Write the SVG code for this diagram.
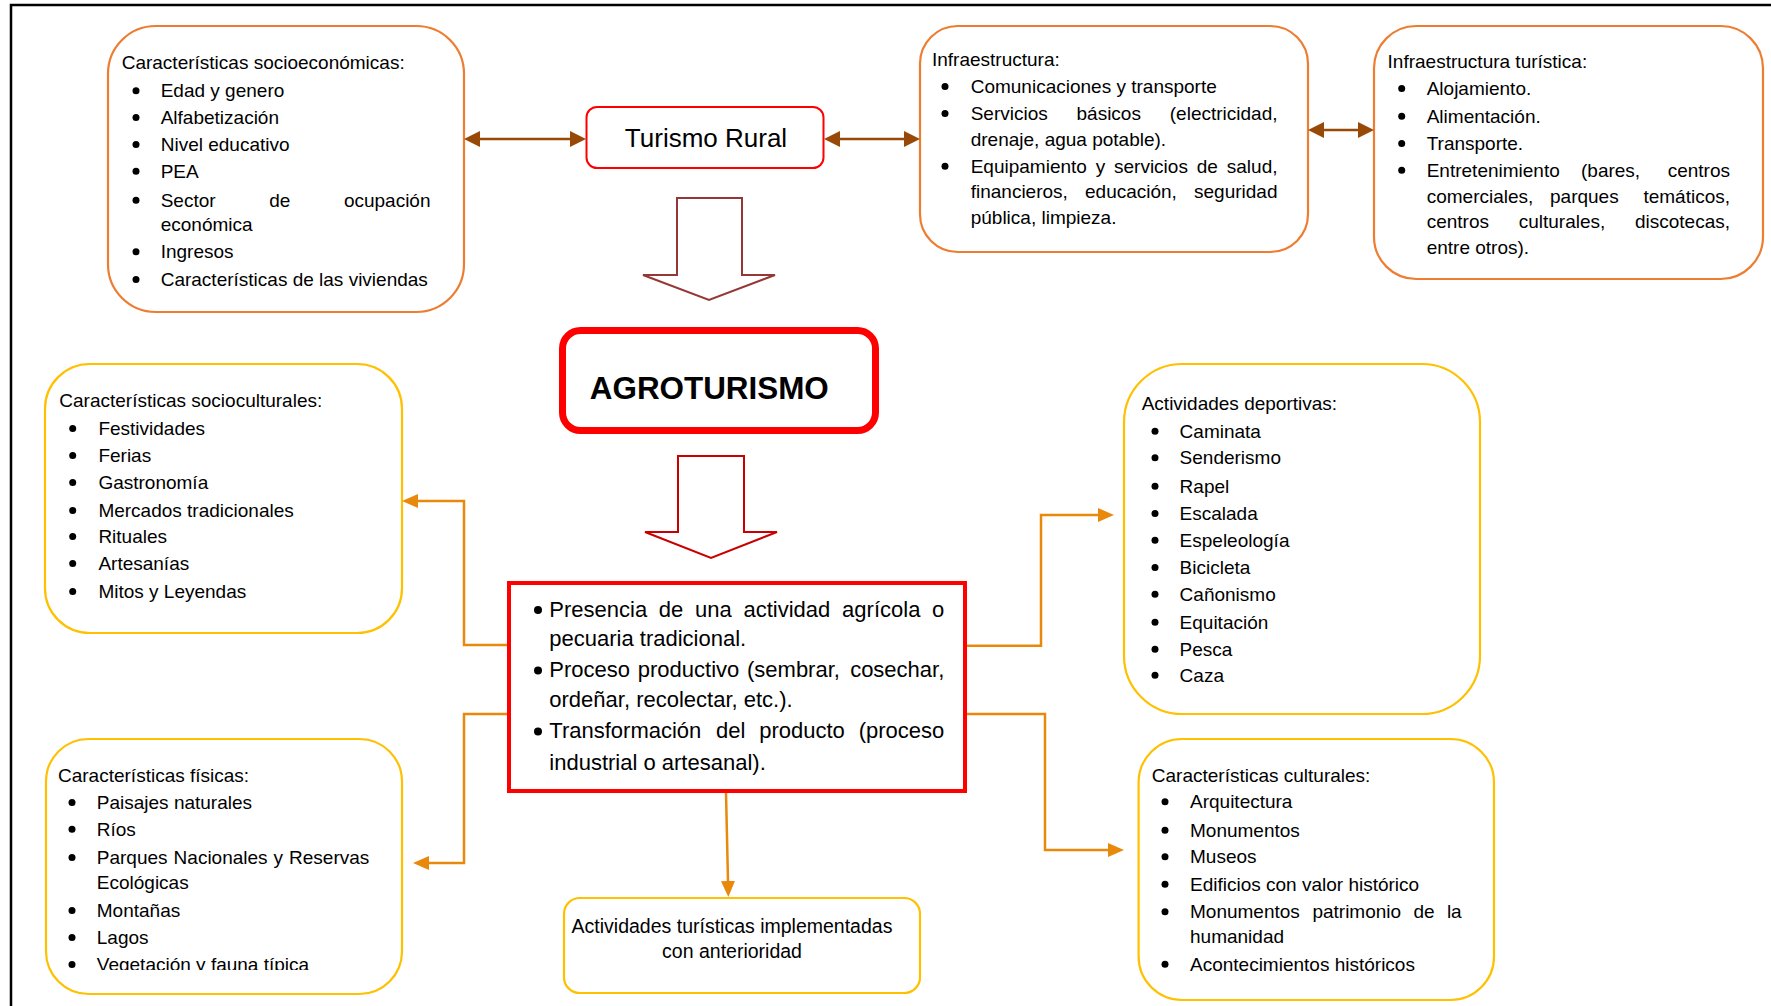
<svg xmlns="http://www.w3.org/2000/svg" width="1771" height="1006" viewBox="0 0 1771 1006">
<style>
 text{font-family:"Liberation Sans",Arial,sans-serif;font-size:19px;fill:#000}
 .m{font-size:22px}
 .e{text-anchor:end}
 .c{text-anchor:middle}
 .ob{fill:#fff;stroke:#ED7D31;stroke-width:2.2}
 .yb{fill:#fff;stroke:#FFC000;stroke-width:2.2}
 .conn{fill:none;stroke:#E8890C;stroke-width:2.5;marker-end:url(#ao)}
 .brn{fill:none;stroke:#984807;stroke-width:2.5;marker-start:url(#ab);marker-end:url(#ab)}
 .b{fill:#000}
</style>
<defs>
 <marker id="ao" markerUnits="userSpaceOnUse" markerWidth="16" markerHeight="14" refX="0" refY="7" orient="auto" viewBox="0 0 16 14"><path d="M0,0 L16,7 L0,14 z" fill="#E8890C"/></marker>
 <marker id="ab" markerUnits="userSpaceOnUse" markerWidth="16" markerHeight="16" refX="0" refY="8" orient="auto-start-reverse" viewBox="0 0 16 16"><path d="M0,0 L16,8 L0,16 z" fill="#984807"/></marker>
 <clipPath id="clipF"><rect x="0" y="0" width="1771" height="970"/></clipPath>
</defs>
<rect x="0" y="0" width="1771" height="1006" fill="#fff"/>
<path d="M11,1006 V5 H1771" fill="none" stroke="#000" stroke-width="2.5"/>

<g id="socioeconomicas">
 <rect class="ob" x="108" y="26" width="356" height="286" rx="47.7"/>
 <text x="121.7" y="69.3">Características socioeconómicas:</text>
 <circle class="b" cx="136" cy="90.8" r="3.5"/><text x="160.7" y="97.3">Edad y genero</text>
 <circle class="b" cx="136" cy="117.5" r="3.5"/><text x="160.7" y="124">Alfabetización</text>
 <circle class="b" cx="136" cy="144.5" r="3.5"/><text x="160.7" y="151">Nivel educativo</text>
 <circle class="b" cx="136" cy="171.2" r="3.5"/><text x="160.7" y="177.7">PEA</text>
 <circle class="b" cx="136" cy="200.2" r="3.5"/><text x="160.7" y="206.7">Sector</text><text x="269.2" y="206.7">de</text><text class="e" x="430.5" y="206.7">ocupación</text>
 <text x="160.7" y="230.7">económica</text>
 <circle class="b" cx="136" cy="251.8" r="3.5"/><text x="160.7" y="258.3">Ingresos</text>
 <circle class="b" cx="136" cy="279.5" r="3.5"/><text x="160.7" y="286">Características de las viviendas</text>
</g>

<g id="turismo-rural">
 <rect x="586.5" y="107" width="237" height="61" rx="10.5" fill="#fff" stroke="#FF0000" stroke-width="2"/>
 <text class="c" x="706" y="147" style="font-size:26px">Turismo Rural</text>
</g>

<g id="infraestructura">
 <rect class="ob" x="920" y="26" width="388" height="226" rx="37.7"/>
 <text x="932" y="66">Infraestructura:</text>
 <circle class="b" cx="945" cy="86.5" r="3.5"/><text x="970.7" y="93">Comunicaciones y transporte</text>
 <circle class="b" cx="945" cy="113.5" r="3.5"/><text x="970.7" y="120">Servicios</text><text x="1076.5" y="120">básicos</text><text class="e" x="1277.5" y="120">(electricidad,</text>
 <text x="970.7" y="146">drenaje, agua potable).</text>
 <circle class="b" cx="945" cy="166.2" r="3.5"/><text x="970.7" y="172.7">Equipamiento</text><text x="1095.7" y="172.7">y</text><text x="1114" y="172.7">servicios</text><text x="1196.7" y="172.7">de</text><text class="e" x="1277.5" y="172.7">salud,</text>
 <text x="970.7" y="198.3">financieros,</text><text x="1085" y="198.3">educación,</text><text class="e" x="1277.5" y="198.3">seguridad</text>
 <text x="970.7" y="224.3">pública, limpieza.</text>
</g>

<g id="infraestructura-turistica">
 <rect class="ob" x="1374" y="26" width="389" height="253" rx="42.2"/>
 <text x="1387.6" y="67.7">Infraestructura turística:</text>
 <circle class="b" cx="1401.7" cy="88.5" r="3.5"/><text x="1426.7" y="95">Alojamiento.</text>
 <circle class="b" cx="1401.7" cy="116.2" r="3.5"/><text x="1426.7" y="122.7">Alimentación.</text>
 <circle class="b" cx="1401.7" cy="143.5" r="3.5"/><text x="1426.7" y="150">Transporte.</text>
 <circle class="b" cx="1401.7" cy="170.2" r="3.5"/><text x="1426.7" y="176.7">Entretenimiento</text><text x="1581" y="176.7">(bares,</text><text class="e" x="1730" y="176.7">centros</text>
 <text x="1426.7" y="202.7">comerciales,</text><text x="1550" y="202.7">parques</text><text class="e" x="1730" y="202.7">temáticos,</text>
 <text x="1426.7" y="228.3">centros</text><text x="1518.7" y="228.3">culturales,</text><text class="e" x="1730" y="228.3">discotecas,</text>
 <text x="1426.7" y="254">entre otros).</text>
</g>

<g id="agroturismo">
 <rect x="562.5" y="330.5" width="313" height="100" rx="18" fill="#fff" stroke="#FF0000" stroke-width="7"/>
 <text x="589.8" y="399" textLength="239" lengthAdjust="spacingAndGlyphs" style="font-size:32px;font-weight:bold">AGROTURISMO</text>
</g>

<g id="socioculturales">
 <rect class="yb" x="45" y="364" width="357" height="269" rx="44.8"/>
 <text x="59.3" y="407">Características socioculturales:</text>
 <circle class="b" cx="72.7" cy="428.5" r="3.5"/><text x="98.4" y="435">Festividades</text>
 <circle class="b" cx="72.7" cy="455.5" r="3.5"/><text x="98.4" y="462">Ferias</text>
 <circle class="b" cx="72.7" cy="482.5" r="3.5"/><text x="98.4" y="489">Gastronomía</text>
 <circle class="b" cx="72.7" cy="510.5" r="3.5"/><text x="98.4" y="517">Mercados tradicionales</text>
 <circle class="b" cx="72.7" cy="536.5" r="3.5"/><text x="98.4" y="543">Rituales</text>
 <circle class="b" cx="72.7" cy="563.5" r="3.5"/><text x="98.4" y="570">Artesanías</text>
 <circle class="b" cx="72.7" cy="591.5" r="3.5"/><text x="98.4" y="598">Mitos y Leyendas</text>
</g>

<g id="deportivas">
 <rect class="yb" x="1124" y="364" width="356" height="350" rx="58.3"/>
 <text x="1141.7" y="410">Actividades deportivas:</text>
 <circle class="b" cx="1155" cy="431.2" r="3.5"/><text x="1179.6" y="437.7">Caminata</text>
 <circle class="b" cx="1155" cy="457.8" r="3.5"/><text x="1179.6" y="464.3">Senderismo</text>
 <circle class="b" cx="1155" cy="486.2" r="3.5"/><text x="1179.6" y="492.7">Rapel</text>
 <circle class="b" cx="1155" cy="513.5" r="3.5"/><text x="1179.6" y="520">Escalada</text>
 <circle class="b" cx="1155" cy="540.2" r="3.5"/><text x="1179.6" y="546.7">Espeleología</text>
 <circle class="b" cx="1155" cy="567.5" r="3.5"/><text x="1179.6" y="574">Bicicleta</text>
 <circle class="b" cx="1155" cy="594.2" r="3.5"/><text x="1179.6" y="600.7">Cañonismo</text>
 <circle class="b" cx="1155" cy="622.2" r="3.5"/><text x="1179.6" y="628.7">Equitación</text>
 <circle class="b" cx="1155" cy="649.2" r="3.5"/><text x="1179.6" y="655.7">Pesca</text>
 <circle class="b" cx="1155" cy="675.2" r="3.5"/><text x="1179.6" y="681.7">Caza</text>
</g>

<g id="agricola">
 <rect x="509" y="583" width="456" height="208" fill="#fff" stroke="#FF0000" stroke-width="4"/>
 <circle class="b" cx="538" cy="610" r="4"/>
 <text class="m" x="549.3" y="616.7">Presencia</text><text class="m" x="658.8" y="616.7">de</text><text class="m" x="695.1" y="616.7">una</text><text class="m" x="743.5" y="616.7">actividad</text><text class="m" x="842.1" y="616.7">agrícola</text><text class="m e" x="944.3" y="616.7">o</text>
 <text class="m" x="549.3" y="646">pecuaria tradicional.</text>
 <circle class="b" cx="538" cy="670.6" r="4"/>
 <text class="m" x="549.3" y="677.3">Proceso</text><text class="m" x="637.8" y="677.3">productivo</text><text class="m" x="747" y="677.3">(sembrar,</text><text class="m e" x="944.3" y="677.3">cosechar,</text>
 <text class="m" x="549.3" y="706.7">ordeñar, recolectar, etc.).</text>
 <circle class="b" cx="538" cy="731.6" r="4"/>
 <text class="m" x="549.3" y="738.3">Transformación</text><text class="m" x="716" y="738.3">del</text><text class="m" x="759.2" y="738.3">producto</text><text class="m e" x="944.3" y="738.3">(proceso</text>
 <text class="m" x="549.3" y="770">industrial o artesanal).</text>
</g>

<g id="fisicas">
 <rect class="yb" x="46" y="739" width="356" height="255" rx="42.5"/>
 <text x="58" y="781.7">Características físicas:</text>
 <circle class="b" cx="72" cy="802.5" r="3.5"/><text x="96.8" y="809">Paisajes naturales</text>
 <circle class="b" cx="72" cy="829.2" r="3.5"/><text x="96.8" y="835.7">Ríos</text>
 <circle class="b" cx="72" cy="857.5" r="3.5"/><text x="96.8" y="864">Parques</text><text x="173.6" y="864">Nacionales</text><text x="273.6" y="864">y</text><text class="e" x="369.3" y="864">Reservas</text>
 <text x="96.8" y="889">Ecológicas</text>
 <circle class="b" cx="72" cy="910.5" r="3.5"/><text x="96.8" y="917">Montañas</text>
 <circle class="b" cx="72" cy="937.5" r="3.5"/><text x="96.8" y="944">Lagos</text>
 <g clip-path="url(#clipF)"><circle class="b" cx="72" cy="964.5" r="3.5"/><text x="96.8" y="971">Vegetación y fauna típica</text></g>
</g>

<g id="culturales">
 <rect class="yb" x="1138.6" y="739" width="355.4" height="261" rx="43.5"/>
 <text x="1151.8" y="781.7">Características culturales:</text>
 <circle class="b" cx="1165" cy="801.8" r="3.5"/><text x="1190" y="808.3">Arquitectura</text>
 <circle class="b" cx="1165" cy="830.2" r="3.5"/><text x="1190" y="836.7">Monumentos</text>
 <circle class="b" cx="1165" cy="856.8" r="3.5"/><text x="1190" y="863.3">Museos</text>
 <circle class="b" cx="1165" cy="884.2" r="3.5"/><text x="1190" y="890.7">Edificios con valor histórico</text>
 <circle class="b" cx="1165" cy="911.8" r="3.5"/><text x="1190" y="918.3">Monumentos</text><text x="1312.4" y="918.3">patrimonio</text><text x="1413.4" y="918.3">de</text><text class="e" x="1461.7" y="918.3">la</text>
 <text x="1190" y="943.3">humanidad</text>
 <circle class="b" cx="1165" cy="964.2" r="3.5"/><text x="1190" y="970.7">Acontecimientos históricos</text>
</g>

<g id="actividades-previas">
 <rect class="yb" x="564" y="898" width="356" height="95" rx="15.8"/>
 <text class="c" x="732" y="933" style="font-size:19.5px">Actividades turísticas implementadas</text>
 <text class="c" x="732" y="958.3" style="font-size:19.5px">con anterioridad</text>
</g>

<g id="connectors">
 <path class="brn" d="M480,139 H570"/>
 <path class="brn" d="M840,139 H904"/>
 <path class="brn" d="M1324,130 H1358"/>
 <polygon points="677,198 742,198 742,275 775,275 709,300 643,275 677,275" fill="#fff" stroke="#953735" stroke-width="2"/>
 <polygon points="678,456 744,456 744,532 777,532 711,558 645,532 678,532" fill="#fff" stroke="#C80000" stroke-width="2"/>
 <path class="conn" d="M507,645 H464 V501 H418"/>
 <path class="conn" d="M507,714 H464 V863 H429"/>
 <path class="conn" d="M967,645.7 H1041 V515 H1098"/>
 <path class="conn" d="M967,714 H1045 V850 H1108"/>
 <path class="conn" d="M726,793 L728,881"/>
</g>
</svg>
